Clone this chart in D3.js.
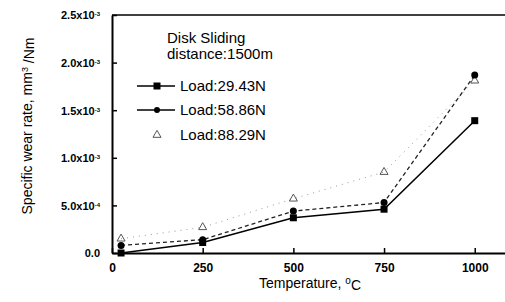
<!DOCTYPE html>
<html lang="en">
    <head>
        <meta charset="utf-8">
        <title>Specific wear rate</title>
        <script src="https://d3js.org/d3.v7.min.js"></script>
        <style type="text/css">
            body { margin: 0; background: #fff; }
            text { font-family: "Liberation Sans", Arial, sans-serif; fill: #000; }
            .tick text { font-weight: bold; }
        </style>
    </head>
    <body>
        <script type="text/javascript">

            const w = 505;
            const h = 302;

            // data (wear rate in units of 1e-3 mm3/Nm)
            const temps = [25, 250, 500, 750, 1000];
            const load1 = [0.0, 0.11, 0.37, 0.46, 1.39];
            const load2 = [0.08, 0.14, 0.44, 0.53, 1.87];
            const load3 = [0.15, 0.27, 0.57, 0.85, 1.81];
            const seriesNames = ["Load:29.43N", "Load:58.86N", "Load:88.29N"];
            const xTicks = [0, 250, 500, 750, 1000];
            const yTicks = [0, 0.5, 1.0, 1.5, 2.0, 2.5];
            const yTickBase = ["0.0", "5.0x10", "1.0x10", "1.5x10", "2.0x10", "2.5x10"];
            const yTickExp = ["", "-4", "-3", "-3", "-3", "-3"];

            const xScale = d3.scaleLinear().domain([0, 1100]).range([112, 511]);
            const yScale = d3.scaleLinear().domain([0, 2.5]).range([253, 15]);

            const svg = d3.select("body")
                          .append("svg")
                          .attr("width", w)
                          .attr("height", h);

            // frame
            svg.append("line")
               .attr("x1", xScale(0)).attr("x2", w)
               .attr("y1", yScale(2.5)).attr("y2", yScale(2.5))
               .attr("stroke", "#000").attr("stroke-width", 1.5);

            const bottomAxis = d3.axisBottom(xScale)
                                 .tickValues(xTicks)
                                 .tickSizeInner(-5)
                                 .tickSizeOuter(0)
                                 .tickPadding(10)
                                 .tickFormat(d3.format("d"));
            const gx = svg.append("g")
               .attr("transform", "translate(0," + yScale(0) + ")")
               .call(bottomAxis);
            gx.select(".domain").attr("stroke-width", 2);
            gx.selectAll(".tick line").attr("stroke-width", 1.5);
            gx.selectAll(".tick text").style("font-size", "12px");

            const leftAxis = d3.axisLeft(yScale)
                               .tickValues(yTicks)
                               .tickSizeInner(-5)
                               .tickSizeOuter(0)
                               .tickPadding(12)
                               .tickFormat(() => "");
            const gy = svg.append("g")
               .attr("transform", "translate(" + xScale(0) + ",0)")
               .call(leftAxis);
            gy.select(".domain").attr("stroke-width", 2);
            gy.selectAll(".tick line").attr("stroke-width", 1.5);
            gy.selectAll(".tick text")
              .style("font-size", "11px")
              .attr("dy", "0.35em")
              .each(function(d, i) {
                  const t = d3.select(this);
                  t.append("tspan").text(yTickBase[i]);
                  if (yTickExp[i]) {
                      t.append("tspan").attr("dy", "-0.5em").style("font-size", "6px").text(yTickExp[i]);
                  }
              });

            // axis titles
            const xt = svg.append("text")
               .attr("x", 310).attr("y", 288)
               .attr("text-anchor", "middle")
               .style("font-size", "14px");
            xt.append("tspan").text("Temperature, ");
            xt.append("tspan").attr("dy", "-0.45em").style("font-size", "10px").text("o");
            xt.append("tspan").attr("dy", "0.45em").text("C");

            const yt = svg.append("text")
               .attr("transform", "translate(32,126) rotate(-90)")
               .attr("text-anchor", "middle")
               .style("font-size", "14px");
            yt.append("tspan").text("Specific wear rate, mm");
            yt.append("tspan").attr("dy", "-0.45em").style("font-size", "9px").text("3");
            yt.append("tspan").attr("dy", "0.45em").text(" /Nm");

            // lines
            const line = d3.line().x((d, i) => xScale(temps[i])).y(d => yScale(d));

            svg.append("path").datum(load3).attr("d", line)
               .attr("fill", "none").attr("stroke", "#999").attr("stroke-width", 1)
               .attr("stroke-dasharray", "1,5");
            svg.append("path").datum(load2).attr("d", line)
               .attr("fill", "none").attr("stroke", "#222").attr("stroke-width", 1.3)
               .attr("stroke-dasharray", "4,3");
            svg.append("path").datum(load1).attr("d", line)
               .attr("fill", "none").attr("stroke", "#000").attr("stroke-width", 1.5);

            const tri = d3.symbol().type(d3.symbolTriangle).size(28);
            svg.selectAll(".m3").data(load3).enter().append("path")
               .attr("d", tri)
               .attr("transform", (d, i) => "translate(" + xScale(temps[i]) + "," + yScale(d) + ")")
               .attr("fill", "none").attr("stroke", "#555").attr("stroke-width", 1);
            svg.selectAll(".m2").data(load2).enter().append("circle")
               .attr("cx", (d, i) => xScale(temps[i])).attr("cy", d => yScale(d))
               .attr("r", 3.5).attr("fill", "#000");
            svg.selectAll(".m1").data(load1).enter().append("rect")
               .attr("x", (d, i) => xScale(temps[i]) - 3.5).attr("y", d => yScale(d) - 3.5)
               .attr("width", 7).attr("height", 7).attr("fill", "#000");

            // legend
            svg.append("text").attr("x", 167).attr("y", 43).style("font-size", "15px").text("Disk Sliding");
            svg.append("text").attr("x", 167).attr("y", 59).style("font-size", "15px").text("distance:1500m");

            const legY = [86, 110, 135];
            const lg = svg.selectAll(".legend").data(seriesNames).enter().append("g")
               .attr("transform", (d, i) => "translate(0," + legY[i] + ")");
            lg.filter((d, i) => i < 2).append("line")
               .attr("x1", 137).attr("x2", 175).attr("y1", 0).attr("y2", 0)
               .attr("stroke", "#000").attr("stroke-width", 1.3);
            lg.filter((d, i) => i === 0).append("rect")
               .attr("x", 153.5).attr("y", -3.5).attr("width", 7).attr("height", 7).attr("fill", "#000");
            lg.filter((d, i) => i === 1).append("circle")
               .attr("cx", 157).attr("cy", 0).attr("r", 3).attr("fill", "#000");
            lg.filter((d, i) => i === 2).append("path")
               .attr("d", tri).attr("transform", "translate(157,0)")
               .attr("fill", "none").attr("stroke", "#555").attr("stroke-width", 1);
            lg.append("text").attr("x", 180).attr("y", 0).attr("dy", "0.35em")
               .style("font-size", "15px").text(d => d);

        </script>
    </body>
</html>
